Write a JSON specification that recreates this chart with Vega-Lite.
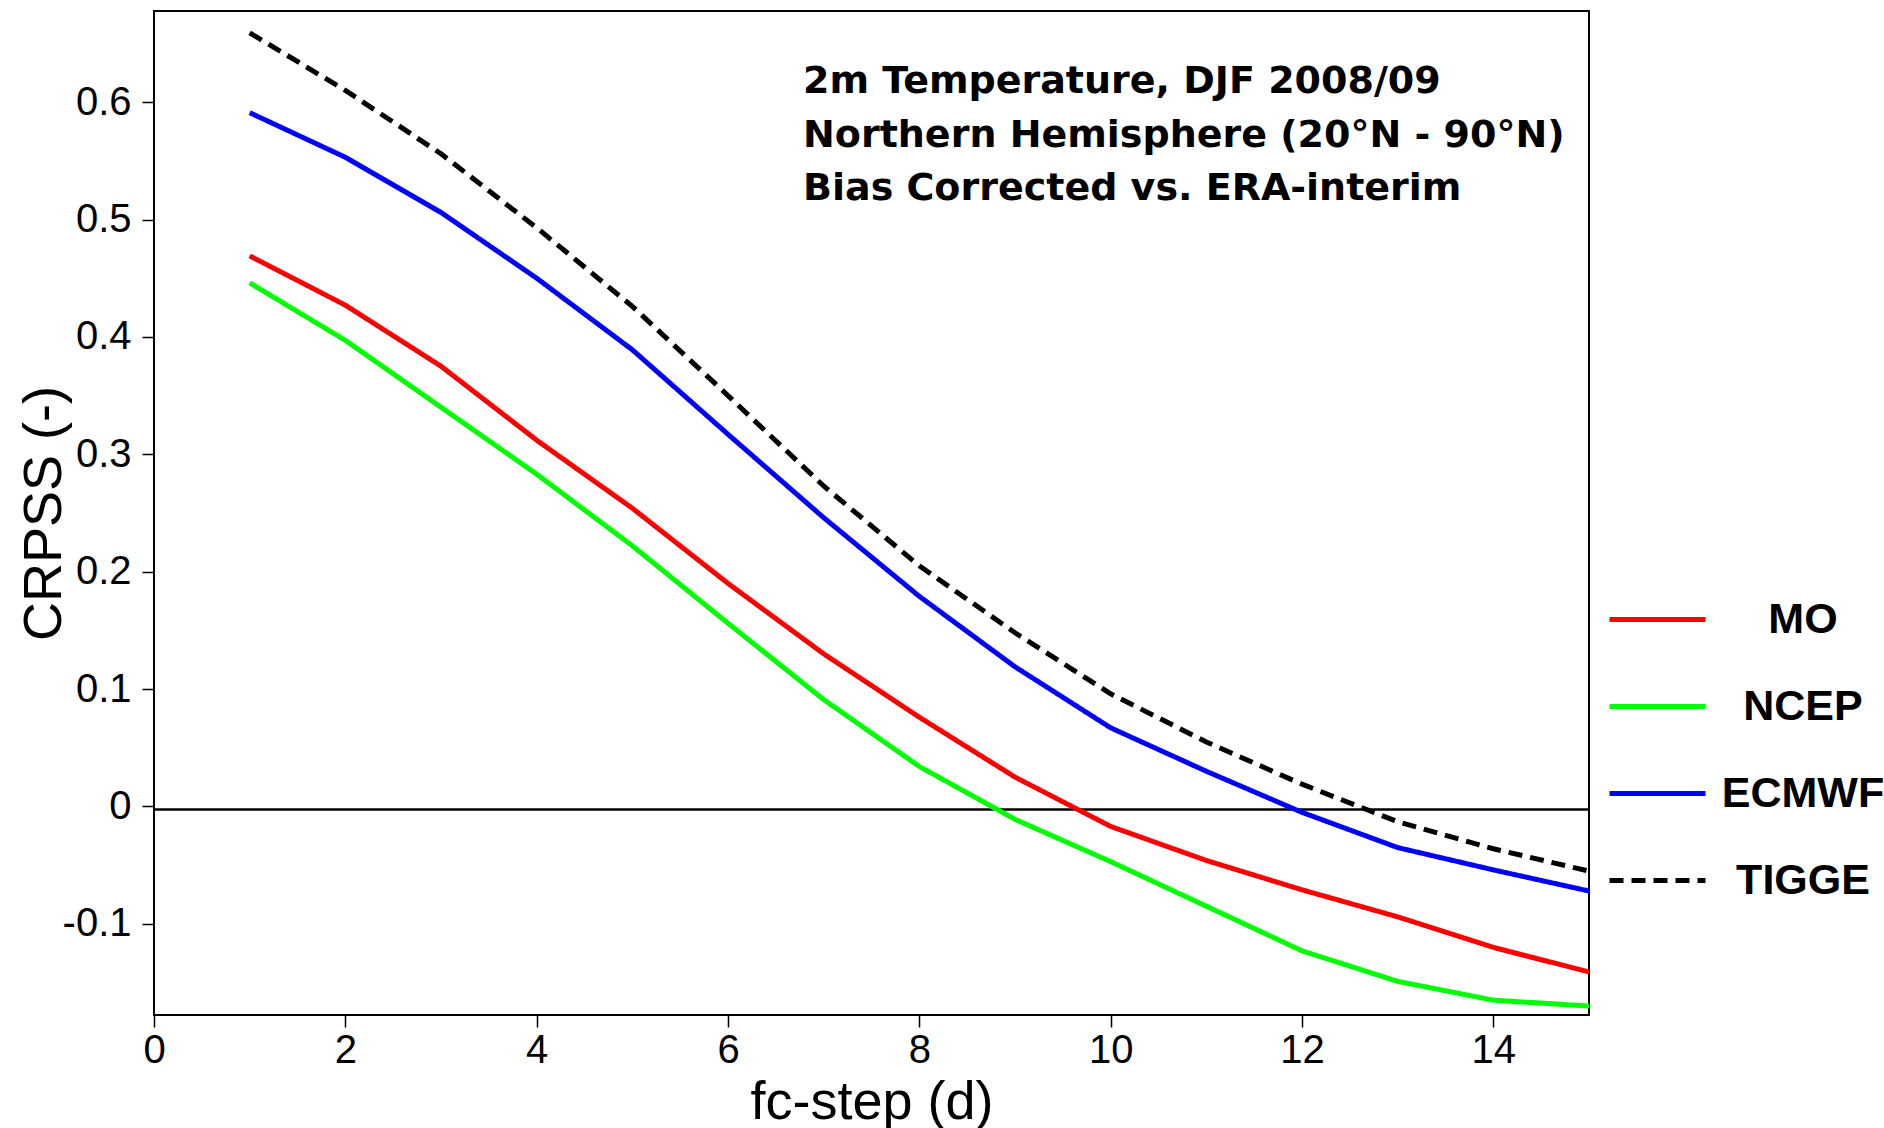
{
  "$schema": "https://vega.github.io/schema/vega-lite/v6.json",
  "width": 1435,
  "height": 1004,
  "autosize": {"type": "none"},
  "padding": {"left": 154, "top": 11, "right": 295, "bottom": 113},
  "background": "white",
  "config": {
    "view": {"stroke": "#000", "strokeWidth": 2},
    "axis": {
      "grid": false,
      "domain": false,
      "labelFlush": false,
      "tickColor": "#000",
      "tickSize": 12,
      "tickWidth": 1.5,
      "labelFont": "Liberation Sans",
      "labelFontSize": 40,
      "labelColor": "#000",
      "titleFont": "Liberation Sans",
      "titleFontSize": 54,
      "titleFontWeight": "normal",
      "titleColor": "#000"
    }
  },
  "datasets": {
    "series": [
      {"step": 1, "model": "MO", "crpss": 0.469},
      {"step": 2, "model": "MO", "crpss": 0.427},
      {"step": 3, "model": "MO", "crpss": 0.375},
      {"step": 4, "model": "MO", "crpss": 0.312},
      {"step": 5, "model": "MO", "crpss": 0.254},
      {"step": 6, "model": "MO", "crpss": 0.190},
      {"step": 7, "model": "MO", "crpss": 0.130},
      {"step": 8, "model": "MO", "crpss": 0.076},
      {"step": 9, "model": "MO", "crpss": 0.025},
      {"step": 10, "model": "MO", "crpss": -0.017},
      {"step": 11, "model": "MO", "crpss": -0.046},
      {"step": 12, "model": "MO", "crpss": -0.071},
      {"step": 13, "model": "MO", "crpss": -0.094},
      {"step": 14, "model": "MO", "crpss": -0.120},
      {"step": 15, "model": "MO", "crpss": -0.141},
      {"step": 1, "model": "NCEP", "crpss": 0.446},
      {"step": 2, "model": "NCEP", "crpss": 0.397},
      {"step": 3, "model": "NCEP", "crpss": 0.340},
      {"step": 4, "model": "NCEP", "crpss": 0.283},
      {"step": 5, "model": "NCEP", "crpss": 0.222},
      {"step": 6, "model": "NCEP", "crpss": 0.156},
      {"step": 7, "model": "NCEP", "crpss": 0.091},
      {"step": 8, "model": "NCEP", "crpss": 0.034},
      {"step": 9, "model": "NCEP", "crpss": -0.011},
      {"step": 10, "model": "NCEP", "crpss": -0.047},
      {"step": 11, "model": "NCEP", "crpss": -0.085},
      {"step": 12, "model": "NCEP", "crpss": -0.123},
      {"step": 13, "model": "NCEP", "crpss": -0.149},
      {"step": 14, "model": "NCEP", "crpss": -0.165},
      {"step": 15, "model": "NCEP", "crpss": -0.170},
      {"step": 1, "model": "ECMWF", "crpss": 0.591},
      {"step": 2, "model": "ECMWF", "crpss": 0.553},
      {"step": 3, "model": "ECMWF", "crpss": 0.506},
      {"step": 4, "model": "ECMWF", "crpss": 0.450},
      {"step": 5, "model": "ECMWF", "crpss": 0.389},
      {"step": 6, "model": "ECMWF", "crpss": 0.317},
      {"step": 7, "model": "ECMWF", "crpss": 0.246},
      {"step": 8, "model": "ECMWF", "crpss": 0.179},
      {"step": 9, "model": "ECMWF", "crpss": 0.119},
      {"step": 10, "model": "ECMWF", "crpss": 0.067},
      {"step": 11, "model": "ECMWF", "crpss": 0.030},
      {"step": 12, "model": "ECMWF", "crpss": -0.005},
      {"step": 13, "model": "ECMWF", "crpss": -0.035},
      {"step": 14, "model": "ECMWF", "crpss": -0.054},
      {"step": 15, "model": "ECMWF", "crpss": -0.072},
      {"step": 1, "model": "TIGGE", "crpss": 0.659},
      {"step": 2, "model": "TIGGE", "crpss": 0.610},
      {"step": 3, "model": "TIGGE", "crpss": 0.556},
      {"step": 4, "model": "TIGGE", "crpss": 0.493},
      {"step": 5, "model": "TIGGE", "crpss": 0.426},
      {"step": 6, "model": "TIGGE", "crpss": 0.350},
      {"step": 7, "model": "TIGGE", "crpss": 0.273},
      {"step": 8, "model": "TIGGE", "crpss": 0.205},
      {"step": 9, "model": "TIGGE", "crpss": 0.148},
      {"step": 10, "model": "TIGGE", "crpss": 0.096},
      {"step": 11, "model": "TIGGE", "crpss": 0.055},
      {"step": 12, "model": "TIGGE", "crpss": 0.019},
      {"step": 13, "model": "TIGGE", "crpss": -0.013},
      {"step": 14, "model": "TIGGE", "crpss": -0.036},
      {"step": 15, "model": "TIGGE", "crpss": -0.055}
    ],
    "notes": [
      {"step": 6.784, "crpss": 0.6075, "text": "2m Temperature, DJF 2008/09"},
      {"step": 6.784, "crpss": 0.5617, "text": "Northern Hemisphere (20°N - 90°N)"},
      {"step": 6.784, "crpss": 0.5170, "text": "Bias Corrected vs. ERA-interim"}
    ]
  },
  "layer": [
    {
      "data": {"values": [{}]},
      "mark": {"type": "rule", "color": "#000", "strokeWidth": 2.5},
      "encoding": {
        "y": {"datum": -0.0025, "type": "quantitative", "scale": {"domain": [-0.1776, 0.6776], "nice": false, "zero": false}}
      }
    },
    {
      "data": {"name": "series"},
      "mark": {"type": "line", "strokeWidth": 5},
      "encoding": {
        "x": {
          "field": "step",
          "type": "quantitative",
          "scale": {"domain": [0, 15], "nice": false, "zero": false},
          "axis": {
            "values": [0, 2, 4, 6, 8, 10, 12, 14],
            "format": "d",
            "title": "fc-step (d)",
            "labelBaseline": "alphabetic",
            "labelPadding": 35,
            "titleBaseline": "alphabetic",
            "titleX": 717.5,
            "titleY": 103
          }
        },
        "y": {
          "field": "crpss",
          "type": "quantitative",
          "scale": {"domain": [-0.1776, 0.6776], "nice": false, "zero": false},
          "axis": {
            "values": [-0.1, 0, 0.1, 0.2, 0.3, 0.4, 0.5, 0.6],
            "labelExpr": "datum.value == 0 ? '0' : (datum.value < 0 ? '-' + format(-datum.value, '.1f') : format(datum.value, '.1f'))",
            "labelPadding": 11,
            "title": "CRPSS (-)",
            "titleAngle": 270,
            "titleBaseline": "alphabetic",
            "titleX": -94,
            "titleY": 502
          }
        },
        "color": {
          "field": "model",
          "type": "nominal",
          "scale": {"domain": ["MO", "NCEP", "ECMWF", "TIGGE"], "range": ["#ff0000", "#00ff00", "#0000ff", "#000000"]},
          "legend": {
            "orient": "none",
            "legendX": 1453,
            "legendY": 558,
            "title": null,
            "padding": 0,
            "symbolType": "stroke",
            "symbolSize": 9216,
            "symbolStrokeWidth": 5,
            "labelFont": "Liberation Sans",
            "labelFontWeight": "bold",
            "labelFontSize": 43,
            "labelColor": "#000",
            "labelAlign": "center",
            "labelOffset": 95,
            "labelLimit": 400,
            "rowPadding": 14
          }
        },
        "strokeDash": {
          "field": "model",
          "type": "nominal",
          "scale": {"domain": ["MO", "NCEP", "ECMWF", "TIGGE"], "range": [[1, 0], [1, 0], [1, 0], [14, 8]]},
          "legend": {
            "orient": "none",
            "legendX": 1453,
            "legendY": 558,
            "title": null,
            "padding": 0,
            "symbolType": "stroke",
            "symbolSize": 9216,
            "symbolStrokeWidth": 5,
            "labelFont": "Liberation Sans",
            "labelFontWeight": "bold",
            "labelFontSize": 43,
            "labelColor": "#000",
            "labelAlign": "center",
            "labelOffset": 95,
            "labelLimit": 400,
            "rowPadding": 14
          }
        }
      }
    },
    {
      "data": {"name": "notes"},
      "mark": {"type": "text", "align": "left", "baseline": "alphabetic", "font": "DejaVu Sans", "fontWeight": "bold", "fontSize": 38, "color": "#000"},
      "encoding": {
        "x": {"field": "step", "type": "quantitative"},
        "y": {"field": "crpss", "type": "quantitative"},
        "text": {"field": "text", "type": "nominal"}
      }
    }
  ]
}
